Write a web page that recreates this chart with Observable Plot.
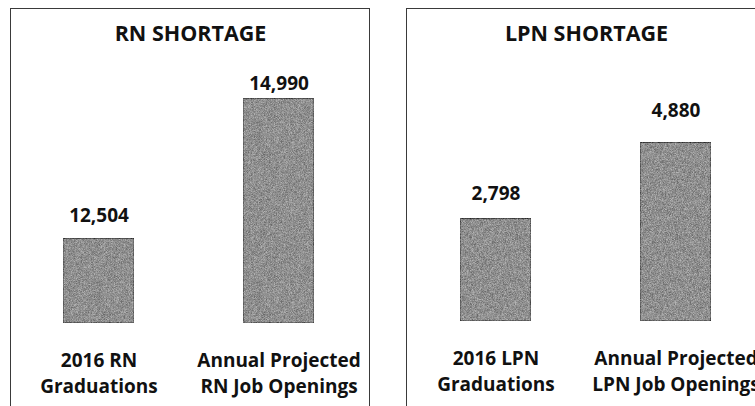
<!DOCTYPE html>
<html><head><meta charset="utf-8">
<script src="https://cdn.jsdelivr.net/npm/d3@7"></script>
<script src="https://cdn.jsdelivr.net/npm/@observablehq/plot@0.6"></script>
<style>
html,body{margin:0;padding:0;background:#fff;overflow:hidden;width:755px;height:406px;}
.panel{position:absolute;border:1px solid #3a3a3a;width:358px;height:420px;background:#fff;}
.panel svg{display:block;}
</style></head><body>
<div id="p1" class="panel" style="left:10px;top:8px"></div>
<div id="p2" class="panel" style="left:406px;top:8px"></div>
<script>
// ---- data ----
const rnTitle = "RN SHORTAGE";
const rnCategories = ["2016 RN\nGraduations", "Annual Projected\nRN Job Openings"];
const rnValues = [12504, 14990];
const rnAxisDomain = [11000, 16000];

const lpnTitle = "LPN SHORTAGE";
const lpnCategories = ["2016 LPN\nGraduations", "Annual Projected\nLPN Job Openings"];
const lpnValues = [2798, 4880];
const lpnAxisDomain = [0, 6000];

const font = "'Open Sans', Lato, sans-serif";

function panel({title, categories, values, domain, yRange, xRange, labelDy, id}) {
  const data = categories.map((c, i) => ({category: c, value: values[i], i}));
  const svg = Plot.plot({
    width: 358, height: 420,
    margin: 0,
    style: {fontFamily: font, background: "#fff", color: "#111", overflow: "visible"},
    x: {domain: categories, range: xRange, paddingInner: 0.604, paddingOuter: 0.2, axis: null},
    y: {domain, range: yRange, axis: null},
    marks: [
      Plot.barY(data, {x: "category", y1: domain[0], y2: "value", fill: "#8f8f8f", stroke: "#3c3c3c", strokeWidth: 1, className: "bars"}),
      // value labels
      ...data.map((d, k) => Plot.text([d], {
        x: "category", y: "value", text: r => d3.format(",")(r.value),
        lineAnchor: "bottom", dy: labelDy[k], fontSize: 19, fontWeight: "bold", fill: "#111"
      })),
      // category labels under the bars
      Plot.text(data, {
        x: "category", y: domain[0], text: "category",
        lineAnchor: "top", dy: 25.2, fontSize: 19, fontWeight: "bold", fill: "#111", lineHeight: 1.36
      }),
      // title
      Plot.text([title], {frameAnchor: "top", lineAnchor: "bottom", dy: 31, fontSize: 21.5, fontWeight: "bold", fill: "#111"})
    ]
  });
  // scanned-print grain on the bars
  const defs = d3.select(svg).insert("defs", ":first-child");
  const f = defs.append("filter").attr("id", "grain" + id)
    .attr("x", 0).attr("y", 0).attr("width", "100%").attr("height", "100%")
    .attr("color-interpolation-filters", "sRGB");
  f.append("feTurbulence").attr("type", "fractalNoise").attr("baseFrequency", 1.6)
    .attr("numOctaves", 1).attr("seed", id * 7).attr("result", "n");
  f.append("feColorMatrix").attr("in", "n").attr("type", "saturate").attr("values", 0).attr("result", "g");
  const ct = f.append("feComponentTransfer").attr("in", "g").attr("result", "gc");
  ["R", "G", "B"].forEach(c => ct.append("feFunc" + c).attr("type", "linear").attr("slope", 2.5).attr("intercept", -0.75));
  ct.append("feFuncA").attr("type", "linear").attr("slope", 0).attr("intercept", 1);
  f.append("feComposite").attr("in", "SourceGraphic").attr("in2", "gc").attr("operator", "arithmetic")
    .attr("k1", 0).attr("k2", 1).attr("k3", 0.3).attr("k4", -0.15).attr("result", "mix");
  f.append("feComposite").attr("in", "mix").attr("in2", "SourceGraphic").attr("operator", "in");
  d3.select(svg).selectAll(".bars rect").attr("filter", `url(#grain${id})`);
  return svg;
}

const p1 = panel({
  id: 1, title: rnTitle, categories: rnCategories, values: rnValues, domain: rnAxisDomain,
  yRange: [314, 32.4], xRange: [15.9, 340.1], labelDy: [-16.6, -8.5]
});
const p2 = panel({
  id: 2, title: lpnTitle, categories: lpnCategories, values: lpnValues, domain: lpnAxisDomain,
  yRange: [312, 92.4], xRange: [16.6, 340.8], labelDy: [-18.6, -25.7]
});
document.getElementById("p1").appendChild(p1);
document.getElementById("p2").appendChild(p2);
</script>
</body></html>
